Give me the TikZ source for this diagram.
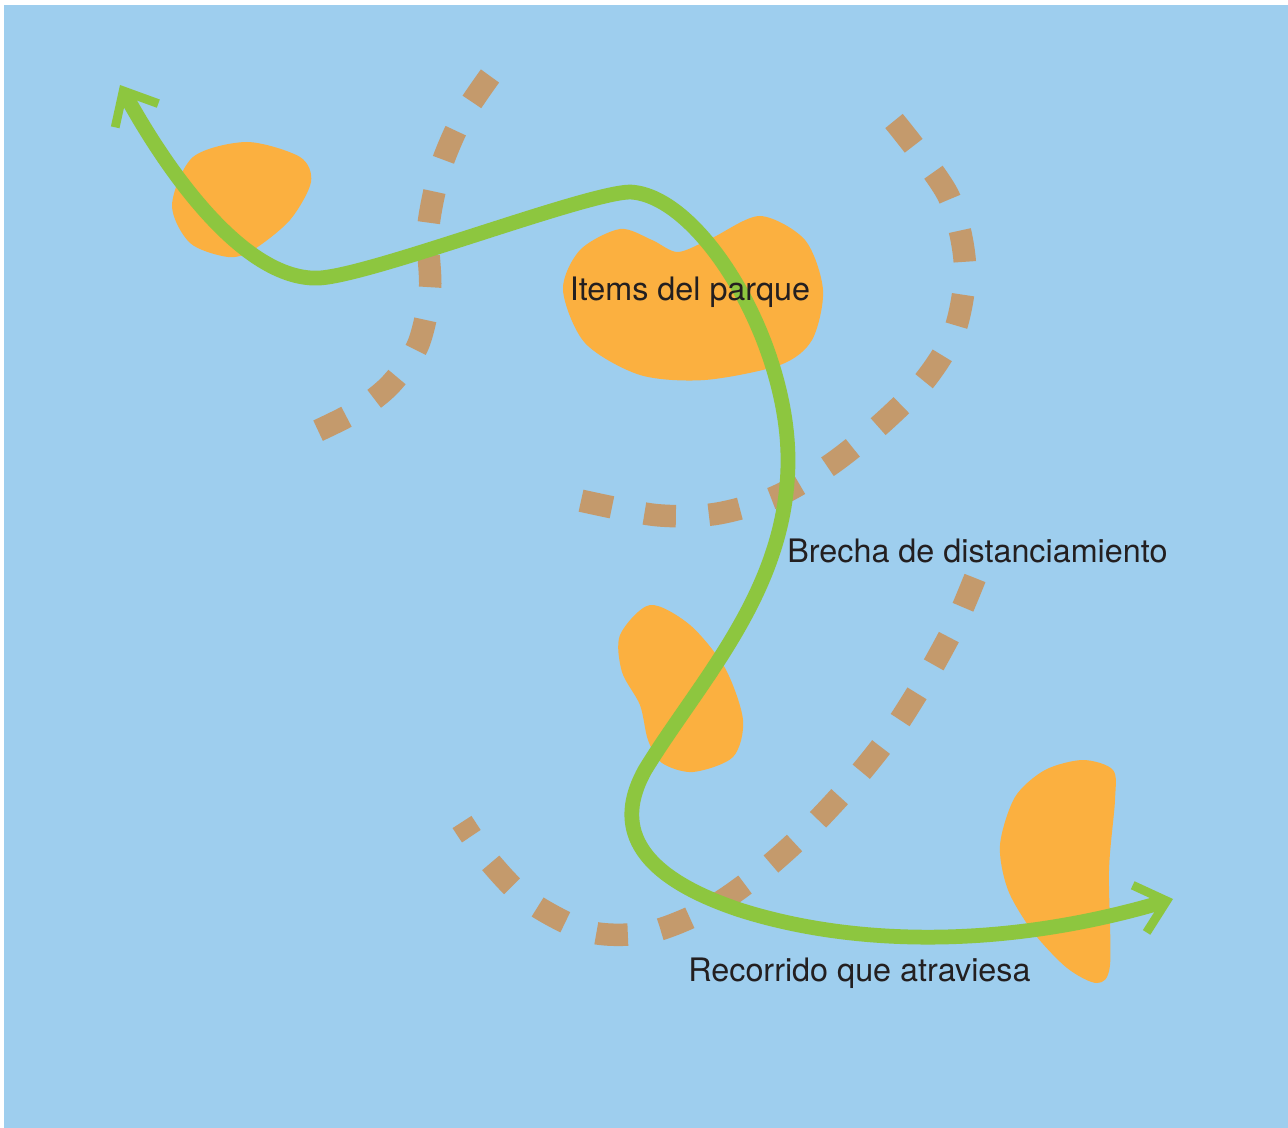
\documentclass[tikz,border=0pt]{standalone}
\usepackage{fontspec}
\setmainfont{TeX Gyre Heros}
\usepackage{tikz}
\usetikzlibrary{arrows.meta, positioning}
\definecolor{agua}{HTML}{9ECEEE}
\definecolor{naranja}{HTML}{FBB040}
\definecolor{verde}{HTML}{8DC63F}
\definecolor{tierra}{HTML}{C49A6C}
\definecolor{tinta}{HTML}{231F20}

\begin{document}
\begin{tikzpicture}[
        x=0.02cm, y=-0.02cm,
        isla/.style={fill=naranja, draw=none},
        brecha/.style={draw=tierra, line width=12.8pt, dash pattern=on 18pt off 18.8pt},
        recorrido/.style={draw=verde, line width=8.4pt,
            {Straight Barb[length=16pt, width=28pt, line width=5pt]}-{Straight Barb[length=16pt, width=28pt, line width=5pt]}},
        every node/.style={font=\fontsize{18.4}{22}\selectfont, text=tinta, inner sep=0pt}
    ]
        \useasboundingbox[fill=white] (0,0) rectangle (1288,1128);
        \fill[agua] (4,5) rectangle (1288,1128);

        % islas naranjas
        \fill[isla] plot[smooth cycle] coordinates {(172,205) (193,157) (247,142) (300,157) (311,182) (290,220) (253,250) (228,257) (190,243)};
        \fill[isla] plot[smooth cycle] coordinates {(563,290) (580,250) (620,229) (652,240) (678,252) (712,238) (760,216) (805,240) (823,290) (812,340) (780,365) (705,380) (640,375) (585,343)};
        \fill[isla] plot[smooth cycle] coordinates {(650,605) (690,625) (725,668) (743,720) (733,757) (693,772) (662,763) (648,740) (640,705) (622,672) (620,635)};
        \fill[isla] plot[smooth cycle] coordinates {(1083,760) (1113,770) (1115,800) (1109,870) (1110,965) (1097,983) (1067,968) (1033,932) (1008,890) (1000,845) (1015,797) (1045,770)};

        % brechas punteadas
        \draw[brecha] plot[smooth] coordinates {(490,76) (462,118) (440,170) (428,230) (430,290) (418,345) (390,385) (355,412) (313,433)};
        \draw[brecha] plot[smooth] coordinates {(894,121) (948,195) (965,265) (955,330) (925,380) (880,425) (830,465) (775,497) (715,514) (655,515) (578,500)};
        \draw[brecha] plot[smooth] coordinates {(975,578) (955,625) (925,680) (890,735) (850,785) (805,833) (760,873) (710,908) (650,932) (590,932) (530,902) (490,862) (462,822)};

        % recorrido verde
        \draw[recorrido] (120,85) .. controls (175,185) and (250,282) .. (320,278)
            .. controls (375,274) and (585,193) .. (630,192)
            .. controls (700,195) and (788,340) .. (788,460)
            .. controls (788,590) and (700,680) .. (645,770)
            .. controls (620,815) and (620,870) .. (740,910)
            .. controls (850,945) and (1000,950) .. (1173,899);

        % etiquetas
        \node (items) at (690,292) {Items del parque};
        \node[anchor=west] (brechatxt) at (787,551) {Brecha de distanciamiento};
        \node[anchor=west] (recorridotxt) at (688,973) {Recorrido que atraviesa};
    \end{tikzpicture}
\end{document}
